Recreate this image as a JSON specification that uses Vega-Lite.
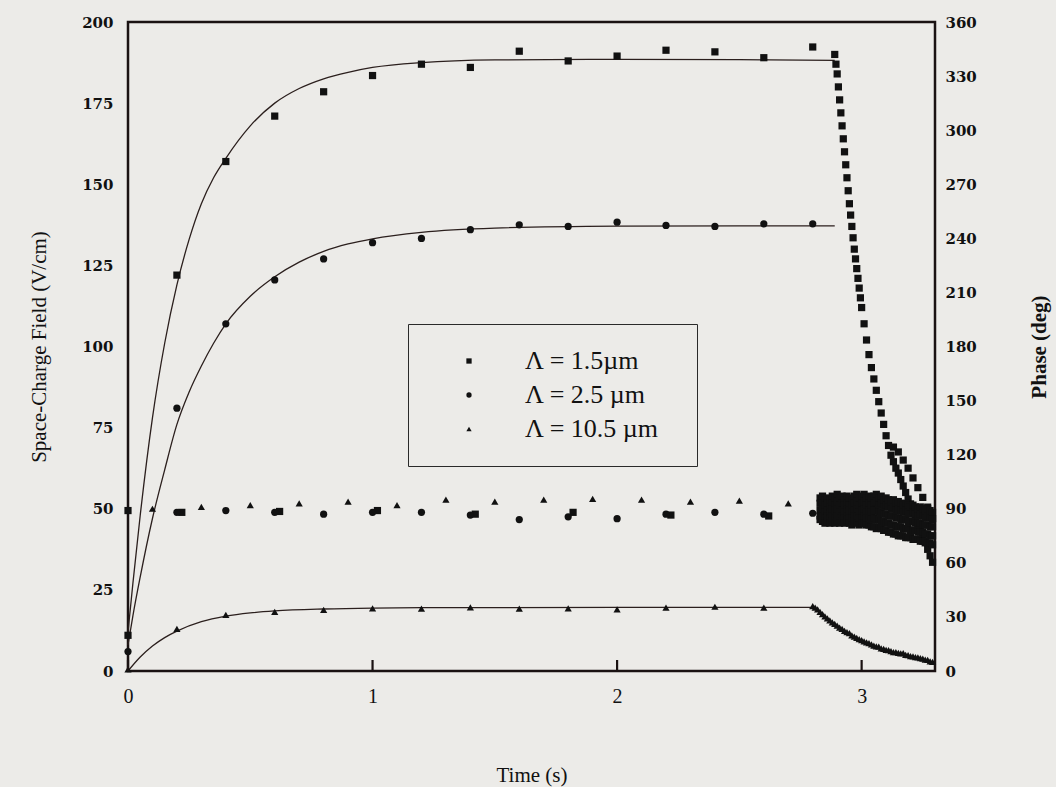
{
"$schema":"https://vega.github.io/schema/vega-lite/v6.json",
"width":807,"height":649,
"autosize":{"type":"none"},
"padding":{"left":128,"top":22,"right":121,"bottom":116},
"background":"#ecebe8",
"config":{"view":{"stroke":"#1a1212","strokeWidth":2.5},"font":"Liberation Serif","axis":{"domain":false,"ticks":false,"grid":false,"labelOverlap":false,"labelColor":"#111111","titleColor":"#111111"},
"legend":{"strokeColor":"#2a2a2a","padding":24,"fillColor":"#ecebe8","symbolOffset":24,"labelOffset":43,"labelFont":"Liberation Serif","labelFontSize":26,"labelColor":"#111111","symbolSize":28,"symbolFillColor":"#111111","symbolStrokeColor":"#111111","rowPadding":8,"labelLimit":0,"titleFontSize":12,"titleOrient":"right","titlePadding":14}},
"datasets":{
"ey":[{"v":0},{"v":25},{"v":50},{"v":75},{"v":100},{"v":125},{"v":150},{"v":175},{"v":200}],
"py":[{"v":0},{"v":30},{"v":60},{"v":90},{"v":120},{"v":150},{"v":180},{"v":210},{"v":240},{"v":270},{"v":300},{"v":330},{"v":360}],
"xt":[{"t":0},{"t":1},{"t":2},{"t":3}],
"fit":[
{"s":"S","t":0,"E":12},{"s":"S","t":0.02,"E":27},{"s":"S","t":0.05,"E":48},{"s":"S","t":0.1,"E":78},{"s":"S","t":0.15,"E":101},{"s":"S","t":0.2,"E":119},{"s":"S","t":0.25,"E":133},{"s":"S","t":0.3,"E":144},{"s":"S","t":0.35,"E":152},{"s":"S","t":0.4,"E":158},{"s":"S","t":0.5,"E":168},{"s":"S","t":0.6,"E":175},{"s":"S","t":0.7,"E":179.5},{"s":"S","t":0.8,"E":182.5},{"s":"S","t":0.9,"E":184.5},{"s":"S","t":1.0,"E":186},{"s":"S","t":1.2,"E":187.5},{"s":"S","t":1.5,"E":188.3},{"s":"S","t":2.0,"E":188.5},{"s":"S","t":2.5,"E":188.4},{"s":"S","t":2.89,"E":188.2},
{"s":"C","t":0,"E":8},{"s":"C","t":0.02,"E":17},{"s":"C","t":0.05,"E":29},{"s":"C","t":0.1,"E":47},{"s":"C","t":0.15,"E":62},{"s":"C","t":0.2,"E":76},{"s":"C","t":0.25,"E":86},{"s":"C","t":0.3,"E":94},{"s":"C","t":0.35,"E":101},{"s":"C","t":0.4,"E":107},{"s":"C","t":0.5,"E":115.5},{"s":"C","t":0.6,"E":121.5},{"s":"C","t":0.7,"E":126},{"s":"C","t":0.8,"E":129.3},{"s":"C","t":0.9,"E":131.6},{"s":"C","t":1.0,"E":133.2},{"s":"C","t":1.2,"E":135.2},{"s":"C","t":1.5,"E":136.5},{"s":"C","t":2.0,"E":137.1},{"s":"C","t":2.5,"E":137.2},{"s":"C","t":2.89,"E":137.2},
{"s":"T","t":0,"E":0},{"s":"T","t":0.05,"E":4.3},{"s":"T","t":0.1,"E":7.7},{"s":"T","t":0.15,"E":10.3},{"s":"T","t":0.2,"E":12.3},{"s":"T","t":0.3,"E":15.2},{"s":"T","t":0.4,"E":16.9},{"s":"T","t":0.5,"E":17.9},{"s":"T","t":0.6,"E":18.5},{"s":"T","t":0.8,"E":19.1},{"s":"T","t":1.0,"E":19.4},{"s":"T","t":1.2,"E":19.5},{"s":"T","t":2.0,"E":19.6},{"s":"T","t":2.81,"E":19.6}
],
"field":[
{"s":"Λ = 1.5µm","t":0,"E":11},{"s":"Λ = 1.5µm","t":0.2,"E":122},{"s":"Λ = 1.5µm","t":0.4,"E":157},{"s":"Λ = 1.5µm","t":0.6,"E":171},{"s":"Λ = 1.5µm","t":0.8,"E":178.5},{"s":"Λ = 1.5µm","t":1.0,"E":183.5},{"s":"Λ = 1.5µm","t":1.2,"E":187},{"s":"Λ = 1.5µm","t":1.4,"E":186},{"s":"Λ = 1.5µm","t":1.6,"E":191},{"s":"Λ = 1.5µm","t":1.8,"E":188},{"s":"Λ = 1.5µm","t":2.0,"E":189.5},{"s":"Λ = 1.5µm","t":2.2,"E":191.3},{"s":"Λ = 1.5µm","t":2.4,"E":190.8},{"s":"Λ = 1.5µm","t":2.6,"E":189},{"s":"Λ = 1.5µm","t":2.8,"E":192.3},
{"s":"Λ = 1.5µm","t":2.89,"E":190},{"s":"Λ = 1.5µm","t":2.895,"E":187},{"s":"Λ = 1.5µm","t":2.9,"E":184},{"s":"Λ = 1.5µm","t":2.905,"E":180},{"s":"Λ = 1.5µm","t":2.91,"E":176},{"s":"Λ = 1.5µm","t":2.915,"E":172},{"s":"Λ = 1.5µm","t":2.92,"E":168},{"s":"Λ = 1.5µm","t":2.925,"E":164},{"s":"Λ = 1.5µm","t":2.93,"E":160},{"s":"Λ = 1.5µm","t":2.935,"E":156},{"s":"Λ = 1.5µm","t":2.94,"E":152},{"s":"Λ = 1.5µm","t":2.945,"E":148},{"s":"Λ = 1.5µm","t":2.95,"E":144},{"s":"Λ = 1.5µm","t":2.955,"E":140.5},{"s":"Λ = 1.5µm","t":2.96,"E":137},{"s":"Λ = 1.5µm","t":2.965,"E":133.5},{"s":"Λ = 1.5µm","t":2.97,"E":130},{"s":"Λ = 1.5µm","t":2.975,"E":127},{"s":"Λ = 1.5µm","t":2.98,"E":124},{"s":"Λ = 1.5µm","t":2.985,"E":121},{"s":"Λ = 1.5µm","t":2.99,"E":118},{"s":"Λ = 1.5µm","t":2.995,"E":115},{"s":"Λ = 1.5µm","t":3.0,"E":112},{"s":"Λ = 1.5µm","t":3.01,"E":107},{"s":"Λ = 1.5µm","t":3.02,"E":102},{"s":"Λ = 1.5µm","t":3.03,"E":97.5},{"s":"Λ = 1.5µm","t":3.04,"E":93.5},{"s":"Λ = 1.5µm","t":3.05,"E":90},{"s":"Λ = 1.5µm","t":3.06,"E":86.5},{"s":"Λ = 1.5µm","t":3.07,"E":83},{"s":"Λ = 1.5µm","t":3.08,"E":79.5},{"s":"Λ = 1.5µm","t":3.09,"E":76},{"s":"Λ = 1.5µm","t":3.1,"E":72.5},{"s":"Λ = 1.5µm","t":3.11,"E":69.5},{"s":"Λ = 1.5µm","t":3.12,"E":66.5},{"s":"Λ = 1.5µm","t":3.13,"E":64.5},{"s":"Λ = 1.5µm","t":3.14,"E":62.5},{"s":"Λ = 1.5µm","t":3.15,"E":61},{"s":"Λ = 1.5µm","t":3.16,"E":59},{"s":"Λ = 1.5µm","t":3.17,"E":57},{"s":"Λ = 1.5µm","t":3.18,"E":55},{"s":"Λ = 1.5µm","t":3.19,"E":53},{"s":"Λ = 1.5µm","t":3.2,"E":51.5},{"s":"Λ = 1.5µm","t":3.21,"E":49.5},{"s":"Λ = 1.5µm","t":3.22,"E":47.5},{"s":"Λ = 1.5µm","t":3.23,"E":45.5},{"s":"Λ = 1.5µm","t":3.24,"E":43.5},{"s":"Λ = 1.5µm","t":3.25,"E":41.5},{"s":"Λ = 1.5µm","t":3.26,"E":39.5},{"s":"Λ = 1.5µm","t":3.27,"E":37.5},{"s":"Λ = 1.5µm","t":3.28,"E":35.5},{"s":"Λ = 1.5µm","t":3.29,"E":33.5},
{"s":"Λ = 1.5µm","t":3.13,"E":69},{"s":"Λ = 1.5µm","t":3.15,"E":67.5},{"s":"Λ = 1.5µm","t":3.17,"E":65},{"s":"Λ = 1.5µm","t":3.19,"E":62.5},{"s":"Λ = 1.5µm","t":3.21,"E":59.5},{"s":"Λ = 1.5µm","t":3.23,"E":56.5},{"s":"Λ = 1.5µm","t":3.25,"E":53.5},{"s":"Λ = 1.5µm","t":3.27,"E":50.5},{"s":"Λ = 1.5µm","t":3.29,"E":47},
{"s":"Λ = 2.5 µm","t":0,"E":6},{"s":"Λ = 2.5 µm","t":0.2,"E":81},{"s":"Λ = 2.5 µm","t":0.4,"E":107},{"s":"Λ = 2.5 µm","t":0.6,"E":120.5},{"s":"Λ = 2.5 µm","t":0.8,"E":127},{"s":"Λ = 2.5 µm","t":1.0,"E":132},{"s":"Λ = 2.5 µm","t":1.2,"E":133.3},{"s":"Λ = 2.5 µm","t":1.4,"E":136},{"s":"Λ = 2.5 µm","t":1.6,"E":137.5},{"s":"Λ = 2.5 µm","t":1.8,"E":137},{"s":"Λ = 2.5 µm","t":2.0,"E":138.3},{"s":"Λ = 2.5 µm","t":2.2,"E":137.3},{"s":"Λ = 2.5 µm","t":2.4,"E":137},{"s":"Λ = 2.5 µm","t":2.6,"E":137.8},{"s":"Λ = 2.5 µm","t":2.8,"E":137.8},
{"s":"Λ = 10.5 µm","t":0,"E":0.5},{"s":"Λ = 10.5 µm","t":0.2,"E":13},{"s":"Λ = 10.5 µm","t":0.4,"E":17.3},{"s":"Λ = 10.5 µm","t":0.6,"E":18.2},{"s":"Λ = 10.5 µm","t":0.8,"E":18.8},{"s":"Λ = 10.5 µm","t":1.0,"E":19.3},{"s":"Λ = 10.5 µm","t":1.2,"E":19.2},{"s":"Λ = 10.5 µm","t":1.4,"E":19.6},{"s":"Λ = 10.5 µm","t":1.6,"E":19.2},{"s":"Λ = 10.5 µm","t":1.8,"E":19.3},{"s":"Λ = 10.5 µm","t":2.0,"E":19},{"s":"Λ = 10.5 µm","t":2.2,"E":19.5},{"s":"Λ = 10.5 µm","t":2.4,"E":19.8},{"s":"Λ = 10.5 µm","t":2.6,"E":19.5},{"s":"Λ = 10.5 µm","t":2.8,"E":20},
{"s":"Λ = 10.5 µm","t":2.81,"E":19.5},{"s":"Λ = 10.5 µm","t":2.82,"E":19},{"s":"Λ = 10.5 µm","t":2.83,"E":18.2},{"s":"Λ = 10.5 µm","t":2.84,"E":17.5},{"s":"Λ = 10.5 µm","t":2.85,"E":16.8},{"s":"Λ = 10.5 µm","t":2.86,"E":16.2},{"s":"Λ = 10.5 µm","t":2.87,"E":15.6},{"s":"Λ = 10.5 µm","t":2.88,"E":15},{"s":"Λ = 10.5 µm","t":2.89,"E":14.5},{"s":"Λ = 10.5 µm","t":2.9,"E":14},{"s":"Λ = 10.5 µm","t":2.91,"E":13.4},{"s":"Λ = 10.5 µm","t":2.92,"E":13},{"s":"Λ = 10.5 µm","t":2.93,"E":12.4},{"s":"Λ = 10.5 µm","t":2.94,"E":12},{"s":"Λ = 10.5 µm","t":2.95,"E":11.7},{"s":"Λ = 10.5 µm","t":2.96,"E":11},{"s":"Λ = 10.5 µm","t":2.97,"E":10.6},{"s":"Λ = 10.5 µm","t":2.98,"E":10.2},{"s":"Λ = 10.5 µm","t":2.99,"E":9.8},{"s":"Λ = 10.5 µm","t":3.0,"E":9.5},{"s":"Λ = 10.5 µm","t":3.01,"E":9.1},{"s":"Λ = 10.5 µm","t":3.02,"E":8.8},{"s":"Λ = 10.5 µm","t":3.03,"E":8.6},{"s":"Λ = 10.5 µm","t":3.04,"E":8.2},{"s":"Λ = 10.5 µm","t":3.05,"E":7.8},{"s":"Λ = 10.5 µm","t":3.06,"E":7.6},{"s":"Λ = 10.5 µm","t":3.07,"E":7.5},{"s":"Λ = 10.5 µm","t":3.08,"E":7},{"s":"Λ = 10.5 µm","t":3.09,"E":6.8},{"s":"Λ = 10.5 µm","t":3.1,"E":6.5},{"s":"Λ = 10.5 µm","t":3.11,"E":6.4},{"s":"Λ = 10.5 µm","t":3.12,"E":6.1},{"s":"Λ = 10.5 µm","t":3.13,"E":5.8},{"s":"Λ = 10.5 µm","t":3.14,"E":5.8},{"s":"Λ = 10.5 µm","t":3.15,"E":5.6},{"s":"Λ = 10.5 µm","t":3.16,"E":5.4},{"s":"Λ = 10.5 µm","t":3.17,"E":5.5},{"s":"Λ = 10.5 µm","t":3.18,"E":5},{"s":"Λ = 10.5 µm","t":3.19,"E":4.9},{"s":"Λ = 10.5 µm","t":3.2,"E":4.6},{"s":"Λ = 10.5 µm","t":3.21,"E":4.5},{"s":"Λ = 10.5 µm","t":3.22,"E":4.3},{"s":"Λ = 10.5 µm","t":3.23,"E":4.2},{"s":"Λ = 10.5 µm","t":3.24,"E":4},{"s":"Λ = 10.5 µm","t":3.25,"E":3.8},{"s":"Λ = 10.5 µm","t":3.26,"E":3.5},{"s":"Λ = 10.5 µm","t":3.27,"E":3.4},{"s":"Λ = 10.5 µm","t":3.28,"E":3},{"s":"Λ = 10.5 µm","t":3.29,"E":2.8}
],
"phase":[
{"s":"Λ = 1.5µm","t":0,"P":89},{"s":"Λ = 1.5µm","t":0.22,"P":88},{"s":"Λ = 1.5µm","t":0.62,"P":88.5},{"s":"Λ = 1.5µm","t":1.02,"P":89},{"s":"Λ = 1.5µm","t":1.42,"P":87},{"s":"Λ = 1.5µm","t":1.82,"P":88},{"s":"Λ = 1.5µm","t":2.22,"P":86.5},{"s":"Λ = 1.5µm","t":2.62,"P":86},
{"s":"Λ = 2.5 µm","t":0.2,"P":88},{"s":"Λ = 2.5 µm","t":0.4,"P":89},{"s":"Λ = 2.5 µm","t":0.6,"P":88},{"s":"Λ = 2.5 µm","t":0.8,"P":87},{"s":"Λ = 2.5 µm","t":1.0,"P":88},{"s":"Λ = 2.5 µm","t":1.2,"P":88},{"s":"Λ = 2.5 µm","t":1.4,"P":86.5},{"s":"Λ = 2.5 µm","t":1.6,"P":84},{"s":"Λ = 2.5 µm","t":1.8,"P":85.5},{"s":"Λ = 2.5 µm","t":2.0,"P":84.5},{"s":"Λ = 2.5 µm","t":2.2,"P":87},{"s":"Λ = 2.5 µm","t":2.4,"P":88},{"s":"Λ = 2.5 µm","t":2.6,"P":87},{"s":"Λ = 2.5 µm","t":2.8,"P":87.5},
{"s":"Λ = 10.5 µm","t":0.1,"P":90},{"s":"Λ = 10.5 µm","t":0.3,"P":91},{"s":"Λ = 10.5 µm","t":0.5,"P":92},{"s":"Λ = 10.5 µm","t":0.7,"P":93},{"s":"Λ = 10.5 µm","t":0.9,"P":94},{"s":"Λ = 10.5 µm","t":1.1,"P":92},{"s":"Λ = 10.5 µm","t":1.3,"P":95},{"s":"Λ = 10.5 µm","t":1.5,"P":94},{"s":"Λ = 10.5 µm","t":1.7,"P":95},{"s":"Λ = 10.5 µm","t":1.9,"P":95.5},{"s":"Λ = 10.5 µm","t":2.1,"P":95},{"s":"Λ = 10.5 µm","t":2.3,"P":94},{"s":"Λ = 10.5 µm","t":2.5,"P":94.5},{"s":"Λ = 10.5 µm","t":2.7,"P":93}
],
"band":[
{"t":2.83,"a":96,"b":93,"c":89,"d":86,"e":84},{"t":2.84,"a":97,"b":93,"c":90,"d":86,"e":83},{"t":2.85,"a":95,"b":92,"c":88,"d":85,"e":82},{"t":2.86,"a":96,"b":93,"c":89,"d":86,"e":83},{"t":2.87,"a":95,"b":91,"c":88,"d":85,"e":82},{"t":2.88,"a":97,"b":93,"c":90,"d":86,"e":83},{"t":2.89,"a":96,"b":92,"c":89,"d":85,"e":82},{"t":2.9,"a":98,"b":94,"c":90,"d":86,"e":83},{"t":2.91,"a":96,"b":92,"c":88,"d":85,"e":82},{"t":2.92,"a":97,"b":93,"c":89,"d":86,"e":83},{"t":2.93,"a":95,"b":92,"c":88,"d":85,"e":82},{"t":2.94,"a":97,"b":93,"c":90,"d":86,"e":84},{"t":2.95,"a":96,"b":92,"c":89,"d":85,"e":82},{"t":2.96,"a":95,"b":92,"c":88,"d":85,"e":81},{"t":2.97,"a":97,"b":93,"c":89,"d":86,"e":83},{"t":2.98,"a":98,"b":94,"c":90,"d":86,"e":82},{"t":2.99,"a":96,"b":92,"c":88,"d":85,"e":81},{"t":3.0,"a":97,"b":93,"c":89,"d":85,"e":82},{"t":3.01,"a":98,"b":94,"c":90,"d":86,"e":82},{"t":3.02,"a":96,"b":92,"c":88,"d":85,"e":81},{"t":3.03,"a":97,"b":93,"c":89,"d":85,"e":81},{"t":3.04,"a":96,"b":92,"c":88,"d":84,"e":80},{"t":3.05,"a":97,"b":93,"c":89,"d":85,"e":80},{"t":3.06,"a":98,"b":94,"c":89,"d":84,"e":79},{"t":3.07,"a":96,"b":92,"c":88,"d":84,"e":80},{"t":3.08,"a":97,"b":93,"c":88,"d":83,"e":79},{"t":3.09,"a":95,"b":91,"c":87,"d":83,"e":78},{"t":3.1,"a":96,"b":92,"c":87,"d":82,"e":78},{"t":3.11,"a":95,"b":91,"c":86,"d":82,"e":77},{"t":3.12,"a":94,"b":90,"c":86,"d":81,"e":77},{"t":3.13,"a":95,"b":91,"c":86,"d":81,"e":76},{"t":3.14,"a":93,"b":89,"c":85,"d":80,"e":76},{"t":3.15,"a":94,"b":90,"c":85,"d":80,"e":75},{"t":3.16,"a":93,"b":89,"c":84,"d":80,"e":75},{"t":3.17,"a":92,"b":88,"c":84,"d":79,"e":75},{"t":3.18,"a":93,"b":89,"c":84,"d":79,"e":74},{"t":3.19,"a":92,"b":88,"c":83,"d":79,"e":74},{"t":3.2,"a":91,"b":87,"c":83,"d":78,"e":74},{"t":3.21,"a":92,"b":88,"c":83,"d":78,"e":73},{"t":3.22,"a":91,"b":87,"c":82,"d":78,"e":73},{"t":3.23,"a":90,"b":86,"c":82,"d":77,"e":73},{"t":3.24,"a":91,"b":87,"c":82,"d":77,"e":72},{"t":3.25,"a":90,"b":86,"c":81,"d":77,"e":72},{"t":3.26,"a":89,"b":85,"c":81,"d":76,"e":72},{"t":3.27,"a":90,"b":86,"c":81,"d":76,"e":71},{"t":3.28,"a":89,"b":85,"c":80,"d":75,"e":71},{"t":3.29,"a":88,"b":84,"c":80,"d":75,"e":70}
]
},
"encoding":{"x":{"field":"t","type":"quantitative","scale":{"domain":[0,3.3],"nice":false,"zero":false},"axis":{"orient":"bottom","values":[0,1,2,3],"labelPadding":15,"labelFont":"Liberation Serif","labelFontSize":20,"labelFlush":false,"title":"Time (s)","titleFont":"Liberation Serif","titleFontSize":21,"titleFontWeight":"normal","titlePadding":58}}},
"layer":[
{"data":{"name":"fit"},"mark":{"type":"line","color":"#2b1f1d","strokeWidth":1.3,"interpolate":"monotone"},
 "encoding":{"y":{"field":"E","type":"quantitative","scale":{"domain":[0,200],"nice":false},"axis":{"orient":"left","values":[0,25,50,75,100,125,150,175,200],"labelPadding":15,"labelFont":"DejaVu Serif","labelFontWeight":"bold","labelFontSize":15,"title":"Space-Charge Field (V/cm)","titleFont":"Liberation Serif","titleFontSize":21,"titleFontWeight":"normal","titlePadding":32}},"detail":{"field":"s"}}},
{"data":{"name":"field"},"mark":{"type":"point","filled":true,"color":"#111111","opacity":1,"size":52},
 "encoding":{"y":{"field":"E","type":"quantitative","scale":{"domain":[0,200],"nice":false},"axis":null},
 "shape":{"field":"s","type":"nominal","scale":{"domain":["Λ = 1.5µm","Λ = 2.5 µm","Λ = 10.5 µm"],"range":["square","circle","triangle-up"]},
  "legend":{"orient":"none","legendX":280,"legendY":302,"direction":"vertical","title":" "}}}},
{"data":{"name":"phase"},"mark":{"type":"point","filled":true,"color":"#111111","opacity":1,"size":52},
 "encoding":{"y":{"field":"P","type":"quantitative","scale":{"domain":[0,360],"nice":false},"axis":{"orient":"right","values":[0,30,60,90,120,150,180,210,240,270,300,330,360],"labelPadding":10,"labelFont":"DejaVu Serif","labelFontWeight":"bold","labelFontSize":15,"title":"Phase (deg)","titleAngle":270,"titleFont":"Liberation Serif","titleFontSize":21,"titleFontWeight":"bold","titlePadding":73}},
 "shape":{"field":"s","type":"nominal","scale":{"domain":["Λ = 1.5µm","Λ = 2.5 µm","Λ = 10.5 µm"],"range":["square","circle","triangle-up"]},
  "legend":{"orient":"none","legendX":280,"legendY":302,"direction":"vertical","title":" "}}}},
{"data":{"name":"band"},"transform":[{"fold":["a","b","c","d","e"],"as":["k","P"]}],"mark":{"type":"point","filled":true,"color":"#111111","opacity":1,"size":52,"shape":"square"},
 "encoding":{"y":{"field":"P","type":"quantitative","scale":{"domain":[0,360],"nice":false},"axis":null}}},
{"data":{"name":"ey"},"mark":{"type":"point","filled":true,"color":"#1a1212","opacity":1,"size":576,"shape":"M0,-0.1H1V0.1H0Z"},
 "encoding":{"x":{"datum":0},"y":{"field":"v","type":"quantitative","scale":{"domain":[0,200],"nice":false},"axis":null}}},
{"data":{"name":"py"},"mark":{"type":"point","filled":true,"color":"#1a1212","opacity":1,"size":484,"shape":"M0,-0.1H-1V0.1H0Z"},
 "encoding":{"x":{"datum":3.3},"y":{"field":"v","type":"quantitative","scale":{"domain":[0,360],"nice":false},"axis":null}}},
{"data":{"name":"xt"},"mark":{"type":"point","filled":true,"color":"#1a1212","opacity":1,"size":484,"shape":"M-0.1,0V-1H0.1V0Z"},
 "encoding":{"y":{"datum":0,"scale":{"domain":[0,200],"nice":false},"axis":null}}}
],
"resolve":{"scale":{"y":"independent"}}
}
